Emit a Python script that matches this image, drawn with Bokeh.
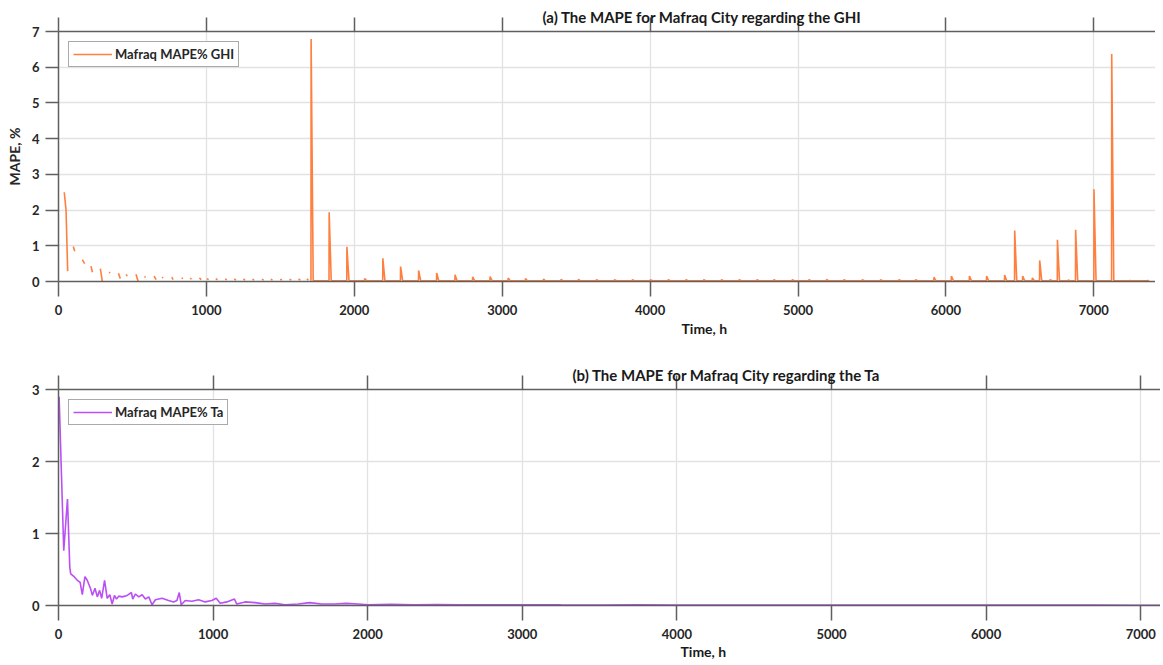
from bokeh.plotting import figure
from bokeh.layouts import column
from bokeh.models import LinearAxis, Legend, LegendItem, FixedTicker, Range1d, Title
from bokeh.embed import file_html
from bokeh.resources import INLINE

NaN = float("nan")

# ---------------- data ----------------
x_ticks = [0, 1000, 2000, 3000, 4000, 5000, 6000, 7000]
ghi_y_ticks = [0, 1, 2, 3, 4, 5, 6, 7]
ta_y_ticks = [0, 1, 2, 3]

# GHI: first segment (hours, MAPE %)
ghi_first_h = [39, 51, 62]
ghi_first_v = [2.50, 2.00, 0.29]

# GHI: early separated dashes (start hour/value, end hour/value)
ghi_dash_start_h = [100, 161, 220, 283, 342, 405, 457, 524, 581, 646, 700, 766, 833, 890,
                    953, 1003, 1063, 1127, 1188, 1250, 1311, 1375, 1435, 1499, 1562, 1623, 1679]
ghi_dash_start_v = [0.98, 0.61, 0.43, 0.36, 0.26, 0.23, 0.20, 0.20, 0.14, 0.15, 0.12, 0.12, 0.10, 0.09,
                    0.10, 0.08, 0.08, 0.07, 0.07, 0.07, 0.06, 0.06, 0.06, 0.06, 0.06, 0.07, 0.07]
ghi_dash_end_h = [110, 177, 229, 296, 350, 418, 465, 538, 589, 660, 708, 775, 842, 900,
                  965, 1015, 1075, 1139, 1200, 1262, 1323, 1387, 1447, 1511, 1574, 1635, 1690]
ghi_dash_end_v = [0.85, 0.50, 0.26, 0.01, 0.24, 0.08, 0.15, 0.01, 0.12, 0.05, 0.10, 0.05, 0.08, 0.07,
                  0.05, 0.05, 0.05, 0.05, 0.04, 0.04, 0.04, 0.04, 0.04, 0.04, 0.04, 0.04, 0.04]

# GHI: later spikes (hour of spike, peak MAPE %) on a near-zero floor
ghi_spike_h = [1708, 1830, 1950, 2070, 2193,
               2313, 2435, 2557, 2681, 2800,
               2918, 3040, 3157, 3279, 3398,
               3515, 3637, 3759, 3880, 4002,
               4122, 4242, 4362, 4482, 4602,
               4722, 4836, 4961, 5073, 5193,
               5310, 5434, 5558, 5682, 5795,
               5919, 6037, 6159, 6275, 6397,
               6465, 6519, 6584, 6634, 6704,
               6754, 6825, 6877, 7001, 7121,
               7240, 7360]
ghi_spike_v = [6.79, 1.94, 0.97, 0.08, 0.65,
               0.42, 0.31, 0.24, 0.19, 0.13,
               0.14, 0.10, 0.08, 0.07, 0.06,
               0.06, 0.05, 0.05, 0.05, 0.05,
               0.05, 0.05, 0.05, 0.05, 0.05,
               0.05, 0.05, 0.05, 0.05, 0.06,
               0.05, 0.05, 0.05, 0.05, 0.05,
               0.12, 0.15, 0.15, 0.15, 0.18,
               1.43, 0.15, 0.10, 0.59, 0.05,
               1.17, 0.04, 1.45, 2.58, 6.37,
               0.03, 0.03]
ghi_floor = 0.02
ghi_drop_hours = 14

# Ta series (hours, MAPE %)
ta_hours = [4, 34, 58, 73, 79, 101, 122, 140, 154, 171,
            186, 208, 219, 236, 251, 266, 279, 298, 315, 332,
            347, 362, 375, 390, 412, 444, 472, 480, 498, 519,
            541, 562, 584, 605, 627, 670, 712, 744, 766, 781,
            794, 820, 863, 906, 949, 992, 1020, 1046, 1089, 1138,
            1153, 1207, 1271, 1336, 1400, 1465, 1550, 1625, 1701, 1787,
            1862, 1937, 2002, 2150, 2300, 2450, 2600, 2800, 3000, 3250,
            3500, 3750, 4000, 4300, 4600, 4900, 5200, 5500, 5800, 6100,
            6400, 6700, 7000, 7128]
ta_mape = [2.90, 0.76, 1.48, 0.53, 0.44, 0.40, 0.35, 0.32, 0.15, 0.40,
           0.35, 0.23, 0.14, 0.24, 0.12, 0.21, 0.10, 0.35, 0.10, 0.15,
           0.02, 0.14, 0.09, 0.13, 0.12, 0.14, 0.18, 0.09, 0.16, 0.12,
           0.15, 0.09, 0.12, 0.01, 0.08, 0.10, 0.07, 0.05, 0.07, 0.18,
           0.01, 0.07, 0.06, 0.08, 0.05, 0.07, 0.10, 0.03, 0.05, 0.09,
           0.02, 0.05, 0.04, 0.02, 0.03, 0.01, 0.02, 0.04, 0.02, 0.02,
           0.03, 0.02, 0.01, 0.015, 0.01, 0.012, 0.01, 0.008, 0.01, 0.008,
           0.007, 0.008, 0.006, 0.007, 0.006, 0.005, 0.006, 0.005, 0.005, 0.006,
           0.005, 0.005, 0.004, 0.004]

# ---------------- build GHI polyline (NaN breaks between dashes) ----------------
ghi_x, ghi_y = [], []
ghi_x += ghi_first_h + [NaN]
ghi_y += ghi_first_v + [NaN]
for sh, sv, eh, ev in zip(ghi_dash_start_h, ghi_dash_start_v, ghi_dash_end_h, ghi_dash_end_v):
    ghi_x += [sh, eh, NaN]
    ghi_y += [sv, ev, NaN]
for h, v in zip(ghi_spike_h, ghi_spike_v):
    ghi_x += [h - 1, h, h + ghi_drop_hours]
    ghi_y += [ghi_floor, v, ghi_floor]

# ---------------- styling ----------------
FONT = "Lato"
TXT = "#262626"
AXIS = "#5f5f5f"
GRID = "#e2e2e2"
ORANGE = "#ff7f3f"
PURPLE = "#b94ff5"


def make_fig(width, height, xmax, ymax, yticks, border_left, border_top, border_bottom):
    p = figure(width=width, height=height,
               x_range=Range1d(0, xmax), y_range=Range1d(0, ymax),
               output_backend="svg", toolbar_location=None,
               min_border_left=border_left, min_border_right=0,
               min_border_top=border_top, min_border_bottom=border_bottom)
    p.outline_line_color = None
    p.background_fill_color = "white"
    p.border_fill_color = "white"

    xa = p.below[0]
    xa.ticker = FixedTicker(ticks=x_ticks)
    ya = p.left[0]
    ya.ticker = FixedTicker(ticks=yticks)
    for ax, tick_out, standoff in ((xa, 15, 8), (ya, 13, 6)):
        ax.axis_line_color = AXIS
        ax.axis_line_width = 1.5
        ax.major_tick_line_color = AXIS
        ax.major_tick_line_width = 1.5
        ax.major_tick_out = tick_out
        ax.major_tick_in = 0
        ax.minor_tick_line_color = None
        ax.major_label_standoff = standoff
        ax.major_label_text_font = FONT
        ax.major_label_text_font_style = "bold"
        ax.major_label_text_font_size = "13px"
        ax.major_label_text_color = TXT

    # top border with tick stubs above it (labels not painted)
    top = LinearAxis(ticker=FixedTicker(ticks=x_ticks))
    top.axis_line_color = AXIS
    top.axis_line_width = 1.5
    top.major_tick_line_color = AXIS
    top.major_tick_line_width = 1.5
    top.major_tick_out = 14
    top.major_tick_in = 0
    top.minor_tick_line_color = None
    top.major_label_text_color = None
    top.major_label_text_font_size = "1px"
    top.major_label_standoff = 0
    p.add_layout(top, "above")

    p.xgrid.ticker = FixedTicker(ticks=x_ticks)
    p.ygrid.ticker = FixedTicker(ticks=yticks)
    p.grid.grid_line_color = GRID
    p.grid.grid_line_width = 1.3
    return p


def add_legend(p, renderer, label):
    leg = Legend(items=[LegendItem(label=label, renderers=[renderer])],
                 location="top_left", margin=10, padding=4, spacing=0,
                 glyph_width=39, glyph_height=16, label_standoff=3,
                 border_line_color="#555555", border_line_width=1,
                 label_text_font=FONT, label_text_font_style="bold",
                 label_text_font_size="13px", label_text_color=TXT,
                 background_fill_color="white", background_fill_alpha=1)
    p.add_layout(leg)


def add_title(p, text, offset):
    p.add_layout(Title(text=text, align="left", offset=offset, vertical_align="bottom",
                       standoff=-16, text_font=FONT, text_font_style="bold",
                       text_font_size="15px", text_color="#1a1a1a"), "above")


def add_xlabel(p, text, offset, standoff):
    p.add_layout(Title(text=text, align="left", offset=offset, vertical_align="top",
                       standoff=standoff, text_font=FONT, text_font_style="bold",
                       text_font_size="14px", text_color="#1a1a1a"), "below")


# ---------------- (a) GHI ----------------
p1 = make_fig(1155, 350, 7417, 7, ghi_y_ticks, 58, 31, 69)
r1 = p1.line(ghi_x, ghi_y, line_color=ORANGE, line_width=1.6)
add_legend(p1, r1, "Mafraq MAPE% GHI")
ya1 = p1.left[0]
ya1.axis_label = "MAPE, %"
ya1.axis_label_text_font = FONT
ya1.axis_label_text_font_style = "bold"
ya1.axis_label_text_font_size = "14px"
ya1.axis_label_text_color = TXT
ya1.axis_label_standoff = 6
add_title(p1, "(a) The MAPE for Mafraq City regarding the GHI", 484)
add_xlabel(p1, "Time, h", 623, 4)

# ---------------- (b) Ta ----------------
p2 = make_fig(1160, 315, 7128, 3, ta_y_ticks, 53, 39, 60)
r2 = p2.line(ta_hours, ta_mape, line_color=PURPLE, line_width=1.6)
add_legend(p2, r2, "Mafraq MAPE% Ta")
add_title(p2, "(b) The MAPE for Mafraq City regarding the Ta", 514)
add_xlabel(p2, "Time, h", 622, 2)

layout = column(p1, p2, spacing=0)
open("out.html", "w").write(file_html(layout, INLINE))
